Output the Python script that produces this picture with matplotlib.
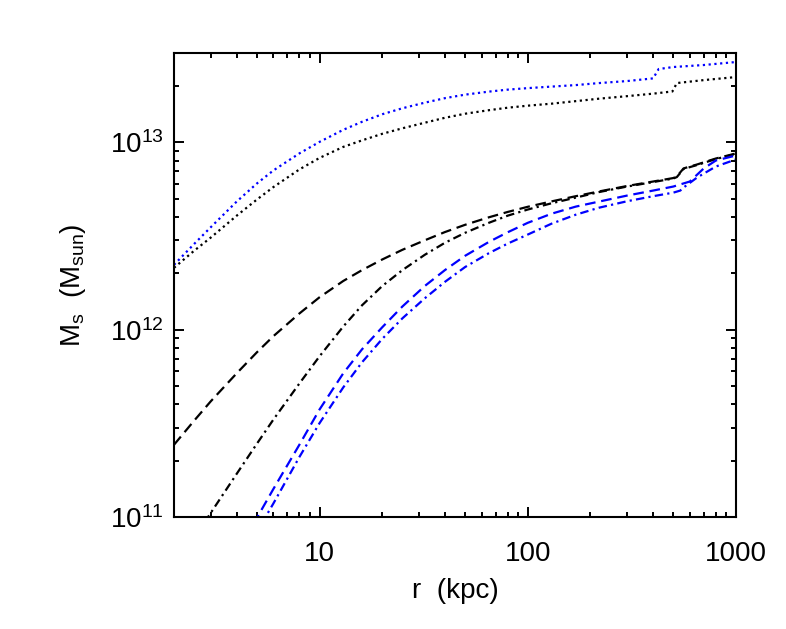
import matplotlib
matplotlib.use("Agg")
import matplotlib.pyplot as plt
from matplotlib.ticker import FixedLocator, FixedFormatter, LogLocator, NullFormatter

plt.rcParams['font.family'] = ['Liberation Sans', 'DejaVu Sans']
plt.rcParams['mathtext.fontset'] = 'custom'
plt.rcParams['mathtext.rm'] = 'Liberation Sans'
plt.rcParams['mathtext.it'] = 'Liberation Sans'

# enclosed mass profiles (r in kpc, M in Msun)
r_blue_dot = [2, 2.5, 3, 4, 5, 6, 8, 10, 13, 16, 20, 25, 32, 40, 50, 65, 80, 100, 130, 170,
              220, 300, 400, 425, 500, 700, 1000]
m_blue_dot = [2.22e12, 2.87e12, 3.52e12, 4.83e12, 6.03e12, 7.08e12, 8.73e12, 1.006e13, 1.167e13,
              1.288e13, 1.413e13, 1.521e13, 1.629e13, 1.722e13, 1.798e13, 1.866e13, 1.912e13,
              1.948e13, 1.985e13, 2.022e13, 2.073e13, 2.125e13, 2.196e13, 2.463e13, 2.525e13,
              2.588e13, 2.685e13]

r_black_dot = [2, 2.5, 3, 4, 5, 6, 8, 10, 13, 16, 20, 25, 32, 40, 50, 65, 80, 100, 130, 170,
               220, 300, 400, 495, 520, 700, 1000]
m_black_dot = [2.14e12, 2.64e12, 3.10e12, 4.06e12, 4.95e12, 5.77e12, 7.17e12, 8.26e12, 9.46e12,
               1.025e13, 1.111e13, 1.189e13, 1.273e13, 1.353e13, 1.422e13, 1.485e13, 1.531e13,
               1.570e13, 1.609e13, 1.660e13, 1.711e13, 1.765e13, 1.820e13, 1.870e13, 2.073e13,
               2.150e13, 2.232e13]

r_black_dash = [2, 2.5, 3, 4, 5, 6, 8, 10, 13, 16, 20, 25, 32, 40, 50, 65, 80, 100, 130, 170,
                220, 300, 400, 500, 520, 560, 650, 800, 1000]
m_black_dash = [2.43e11, 3.27e11, 4.14e11, 5.85e11, 7.57e11, 9.23e11, 1.22e12, 1.49e12, 1.82e12,
                2.08e12, 2.37e12, 2.67e12, 3.00e12, 3.32e12, 3.63e12, 3.98e12, 4.25e12, 4.53e12,
                4.84e12, 5.16e12, 5.47e12, 5.85e12, 6.18e12, 6.45e12, 6.58e12, 7.26e12, 7.62e12,
                8.20e12, 8.73e12]

r_black_dd = [2.8, 3, 4, 5, 6, 8, 10, 13, 16, 20, 25, 32, 40, 50, 65, 80, 100, 130, 170, 220,
              300, 400, 500, 520, 560, 650, 800, 1000]
m_black_dd = [9.35e10, 1.05e11, 1.70e11, 2.46e11, 3.31e11, 5.16e11, 7.21e11, 1.04e12, 1.35e12,
              1.71e12, 2.08e12, 2.51e12, 2.91e12, 3.29e12, 3.72e12, 4.06e12, 4.38e12, 4.73e12,
              5.07e12, 5.43e12, 5.81e12, 6.14e12, 6.41e12, 6.53e12, 7.21e12, 7.57e12, 8.15e12,
              8.67e12]

r_blue_dash = [4.8, 5, 6, 8, 10, 13, 16, 20, 25, 32, 40, 50, 65, 80, 100, 130, 170, 220, 300,
               400, 500, 600, 700, 800, 1000]
m_blue_dash = [9.16e10, 9.88e10, 1.41e11, 2.43e11, 3.75e11, 5.85e11, 7.86e11, 1.03e12, 1.33e12,
               1.71e12, 2.08e12, 2.48e12, 2.94e12, 3.31e12, 3.72e12, 4.16e12, 4.54e12, 4.83e12,
               5.20e12, 5.53e12, 5.81e12, 6.18e12, 7.26e12, 8.00e12, 8.51e12]

r_blue_dd = [5.3, 5.5, 6, 8, 10, 13, 16, 20, 25, 32, 40, 50, 65, 80, 100, 130, 170, 220, 300,
             400, 500, 540, 560, 650, 800, 1000]
m_blue_dd = [9.16e10, 1.00e11, 1.18e11, 2.09e11, 3.17e11, 4.92e11, 6.70e11, 8.93e11, 1.15e12,
             1.47e12, 1.80e12, 2.16e12, 2.56e12, 2.88e12, 3.22e12, 3.68e12, 4.11e12, 4.48e12,
             4.85e12, 5.16e12, 5.39e12, 5.53e12, 5.74e12, 6.49e12, 7.43e12, 8.11e12]

x_ticks = [10, 100, 1000]
x_labels = ['10', '100', '1000']
y_ticks = [1e11, 1e12, 1e13]
y_labels = [r'$10^{11}$', r'$10^{12}$', r'$10^{13}$']

fig = plt.figure(figsize=(7.86, 6.29), dpi=100)
ax = fig.add_axes([174 / 786, (629 - 517) / 629, (736 - 174) / 786, (517 - 53) / 629])

lw = 1.6
dot = (0, (1, 1.6))
dash = (0, (4.8, 2.6))
dashdot = (0, (3.8, 1.9, 1, 1.9))

ax.plot(r_blue_dot, m_blue_dot, color='blue', lw=lw, ls=dot)
ax.plot(r_black_dot, m_black_dot, color='black', lw=lw, ls=dot)
ax.plot(r_black_dash, m_black_dash, color='black', lw=lw, ls=dash)
ax.plot(r_black_dd, m_black_dd, color='black', lw=lw, ls=dashdot)
ax.plot(r_blue_dash, m_blue_dash, color='blue', lw=lw, ls=dash)
ax.plot(r_blue_dd, m_blue_dd, color='blue', lw=lw, ls=dashdot)

ax.set_xscale('log')
ax.set_yscale('log')
ax.set_xlim(2, 1000)
ax.set_ylim(1e11, 3e13)

ax.xaxis.set_major_locator(FixedLocator(x_ticks))
ax.xaxis.set_major_formatter(FixedFormatter(x_labels))
ax.xaxis.set_minor_locator(LogLocator(base=10, subs=range(2, 10)))
ax.xaxis.set_minor_formatter(NullFormatter())
ax.yaxis.set_major_locator(FixedLocator(y_ticks))
ax.yaxis.set_major_formatter(FixedFormatter(y_labels))
ax.yaxis.set_minor_locator(LogLocator(base=10, subs=range(2, 10)))
ax.yaxis.set_minor_formatter(NullFormatter())

for s in ax.spines.values():
    s.set_linewidth(1.5)
ax.tick_params(which='both', direction='in', top=True, right=True, width=1.4)
ax.tick_params(which='major', length=7.5)
ax.tick_params(which='minor', length=3.8)
ax.tick_params(axis='x', which='major', labelsize=20, pad=17)
ax.tick_params(axis='y', which='major', labelsize=20, pad=7)

ax.set_xlabel('r  (kpc)', fontsize=20, labelpad=8)
ax.set_ylabel(r'M$_\mathrm{s}$  (M$_\mathrm{sun}$)', fontsize=20, labelpad=16)

fig.savefig('out.png', dpi=100)
